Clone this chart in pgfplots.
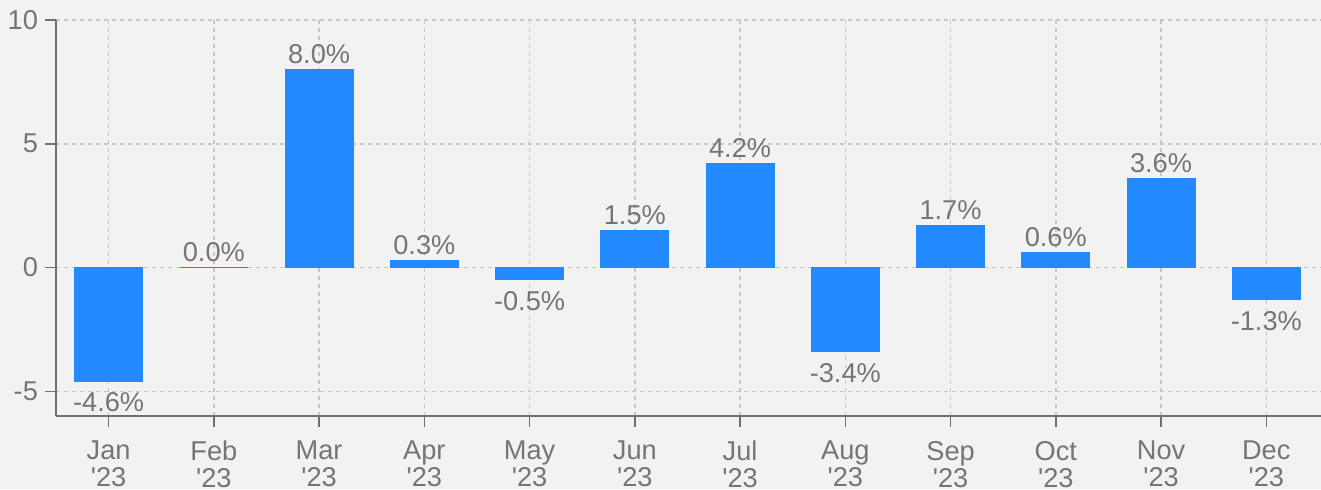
\documentclass[border=0pt]{standalone}
\usepackage{pgfplots}
\pgfplotsset{compat=1.18}
\usepackage{fontspec}
\setmainfont{Liberation Sans}[Ligatures=TeXOff]
\definecolor{bgc}{HTML}{F2F2F2}
\definecolor{barc}{HTML}{2389FF}
\definecolor{txt}{HTML}{757575}
\definecolor{axc}{HTML}{707070}
\definecolor{gridc}{HTML}{C8C8C8}
\begin{document}
\begin{tikzpicture}
\useasboundingbox (-28pt,-36.5pt) rectangle (632.5pt,208pt);
\fill[bgc] (-28pt,-36.5pt) rectangle (632.5pt,208pt);
\clip (-28pt,-36.5pt) rectangle (632.5pt,208pt);
\begin{axis}[
  at={(0pt,0pt)}, anchor=south west,
  scale only axis, width=632.5pt, height=198pt,
  xmin=-0.5, xmax=11.52, ymin=-6, ymax=10,
  axis x line*=bottom, axis y line*=left,
  axis line style={axc, line width=0.75pt, -},
  ytick={-5,0,5,10}, yticklabels={-5,0,5,10},
  xtick={0,...,11},
  xticklabels={Jan\\'23,Feb\\'23,Mar\\'23,Apr\\'23,May\\'23,Jun\\'23,Jul\\'23,Aug\\'23,Sep\\'23,Oct\\'23,Nov\\'23,Dec\\'23},
  xticklabel style={align=center, font=\fontsize{13.6}{13.5}\selectfont, text=txt, yshift=-3.5pt},
  yticklabel style={font=\fontsize{13.6}{13.5}\selectfont, text=txt},
  tick align=outside, major tick length=5.5pt,
  tick style={axc, line width=0.75pt},
  grid=major,
  grid style={gridc, line width=0.75pt, dash pattern=on 2pt off 2pt},
  ybar, bar width=34pt, bar shift=0pt,
  nodes near coords, point meta=explicit symbolic,
  nodes near coords style={font=\fontsize{13.6}{14}\selectfont, text=txt},
]
\addplot[fill=barc, draw=barc, line width=0.4pt,
  every node near coord/.append style={anchor=south, inner sep=2.5pt}] coordinates {
(1,0.0) [0.0\%]
(2,8.0) [8.0\%]
(3,0.3) [0.3\%]
(5,1.5) [1.5\%]
(6,4.2) [4.2\%]
(8,1.7) [1.7\%]
(9,0.6) [0.6\%]
(10,3.6) [3.6\%]
};
\addplot[fill=barc, draw=barc, line width=0.4pt,
  every node near coord/.append style={anchor=north, inner sep=5.5pt}] coordinates {
(0,-4.6) [-4.6\%]
(4,-0.5) [-0.5\%]
(7,-3.4) [-3.4\%]
(11,-1.3) [-1.3\%]
};
\end{axis}
\end{tikzpicture}
\end{document}
